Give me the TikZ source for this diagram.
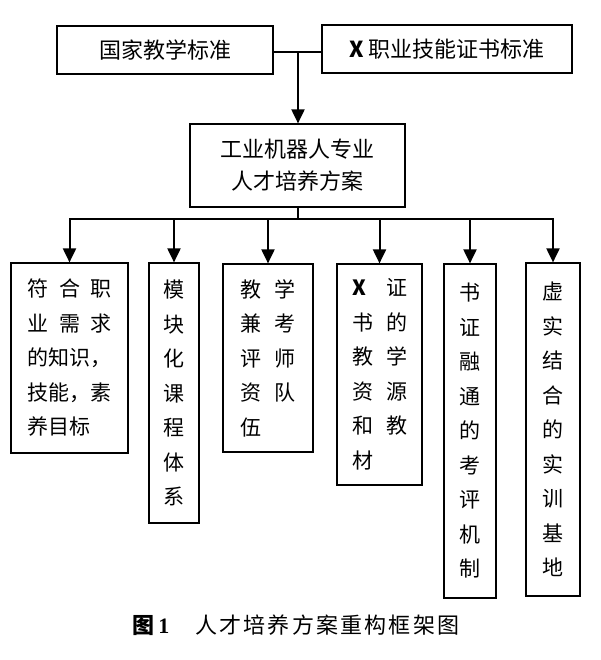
\documentclass[tikz,border=0pt]{standalone}
\usepackage{fontspec}
\setmainfont{Noto Sans CJK SC}
\newfontfamily\capfont[LetterSpace=10]{Noto Sans CJK SC}
\newfontfamily\numfont{Liberation Serif}
\usetikzlibrary{arrows.meta}
\tikzstyle{box}=[rectangle,draw=black,line width=1.2pt,inner sep=0pt,align=center]
\tikzstyle{big}=[font=\fontsize{22pt}{32pt}\selectfont]
\tikzstyle{col}=[font=\fontsize{21pt}{34.5pt}\selectfont]
\tikzstyle{link}=[line width=2pt,line cap=rect]
\tikzstyle{arr}=[line width=2pt,-{Triangle[width=13pt,length=14pt]}]
\newcommand{\spr}[2]{\makebox[#1][s]{#2}}

\begin{document}
\begin{tikzpicture}[x=1pt,y=-1pt]
    \useasboundingbox (0,0) rectangle (600,660);
    % top row
    \node [box,big,minimum width=216pt,minimum height=48pt] (gj) at (165,50) {国家教学标准};
    \node [box,big,minimum width=250pt,minimum height=48pt] (zs) at (447,49) {\textbf{X}\,职业技能证书标准};
    \node [box,big,minimum width=215pt,minimum height=83pt] (fa) at (297.5,165.5) {工业机器人专业\\人才培养方案};
    % bottom row
    \node [box,col,align=left,minimum width=117pt,minimum height=190pt] (fh) at (69.5,358)
      {\spr{4em}{符\hfill 合\hfill 职}\\\spr{4em}{业\hfill 需\hfill 求}\\的知识，\\技能，素\\养目标};
    \node [box,col,minimum width=50pt,minimum height=260pt] (mk) at (174,393)
      {模\\块\\化\\课\\程\\体\\系};
    \node [box,col,align=left,minimum width=90pt,minimum height=188pt] (js) at (268,358)
      {\spr{56pt}{教\hfill 学}\\\spr{56pt}{兼\hfill 考}\\\spr{56pt}{评\hfill 师}\\\spr{56pt}{资\hfill 队}\\伍};
    \node [box,col,align=left,minimum width=85pt,minimum height=221pt] (xz) at (379.5,374.5)
      {\spr{55pt}{\textbf{X}\hfill 证}\\\spr{55pt}{书\hfill 的}\\\spr{55pt}{教\hfill 学}\\\spr{55pt}{资\hfill 源}\\\spr{55pt}{和\hfill 教}\\材};
    \node [box,col,minimum width=52pt,minimum height=334pt] (sz) at (470,431)
      {书\\证\\融\\通\\的\\考\\评\\机\\制};
    \node [box,col,minimum width=54pt,minimum height=333pt] (xs) at (553,429.5)
      {虚\\实\\结\\合\\的\\实\\训\\基\\地};
    % caption
    \node [font=\fontsize{22pt}{26pt}\selectfont] (cap) at (296,625)
      {\textbf{图}\,{\numfont\bfseries 1}\hspace{26pt}{\capfont 人才培养方案重构框架图}};
    % connectors
    \coordinate (jn) at (298,52);
    \coordinate (bus) at (0,219);
    \draw [link] (gj.east |- jn) to (zs.west |- jn);
    \draw [arr] (jn) to (jn |- fa.north);
    \draw [link] (fa.south) to (fa.south |- bus);
    \draw [link] (fh.north |- bus) to (xs.north |- bus);
    \foreach \n in {fh,mk,js,xz,sz,xs}
      \draw [arr] (\n.north |- bus) to (\n.north);
\end{tikzpicture}
\end{document}
